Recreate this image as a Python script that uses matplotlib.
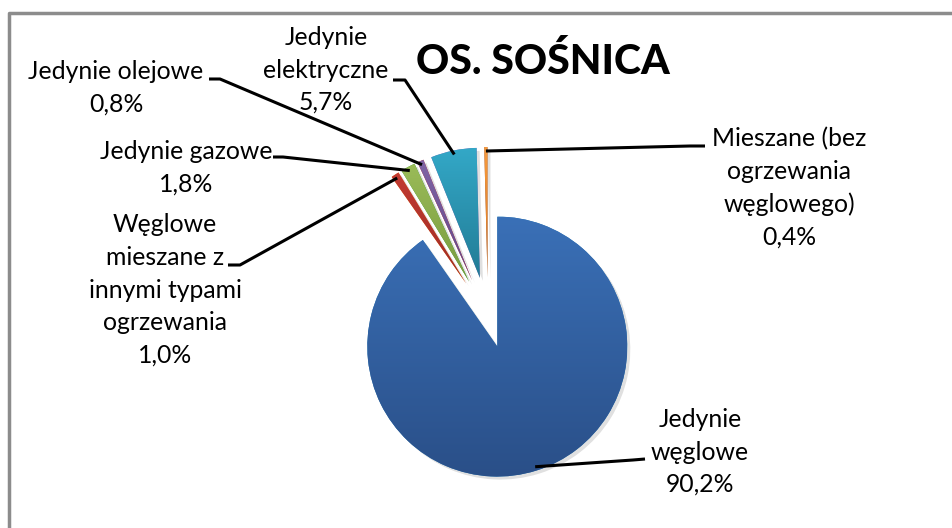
import numpy as np
import matplotlib
matplotlib.use("Agg")
import matplotlib.pyplot as plt
from matplotlib.colors import LinearSegmentedColormap
from matplotlib.patches import Wedge
import math

# ---- data ----
categories = ["Jedynie\nwęglowe",
              "Węglowe\nmieszane z\ninnymi typami\nogrzewania",
              "Jedynie gazowe",
              "Jedynie olejowe",
              "Jedynie\nelektryczne",
              "Mieszane (bez\nogrzewania\nwęglowego)"]
values = [90.2, 1.0, 1.8, 0.8, 5.7, 0.4]
value_labels = ["90,2%", "1,0%", "1,8%", "0,8%", "5,7%", "0,4%"]
title = "OS. SOŚNICA"

# ---- style ----
top_colors = ["#3a70b7", "#c23b32", "#9abb58", "#8064a5", "#33a8c7", "#f79b3e"]
bot_colors = ["#2a4f88", "#9c2b25", "#789a3e", "#5f4686", "#227b95", "#d8761d"]
explode = [31, 40, 40, 40, 40, 40]

W, H = 953, 528
fig = plt.figure(figsize=(W / 100, H / 100), dpi=100)
ax = fig.add_axes([0, 0, 1, 1])
FONT = "Lato"

def py(y):
    return H - y

center = (488, py(317))
radius = 130

wedges, _ = ax.pie(values, startangle=90, counterclock=False, radius=radius,
                   center=center, explode=explode,
                   wedgeprops=dict(linewidth=0), frame=True)

# shadows + gradient fills
grad = np.linspace(0, 1, 256).reshape(-1, 1)
for w, c0, c1 in zip(wedges, top_colors, bot_colors):
    sh = Wedge((w.center[0] + 3, w.center[1] - 3), w.r, w.theta1, w.theta2,
               facecolor="#000000", alpha=0.12, linewidth=0, zorder=0.5)
    ax.add_patch(sh)
    w.set_zorder(1)
    bb = w.get_path().get_extents()
    cmap = LinearSegmentedColormap.from_list("g", [c1, c0])
    im = ax.imshow(grad, cmap=cmap, origin="lower", aspect="auto",
                   extent=[bb.x0, bb.x1, bb.y0, bb.y1], zorder=1.5,
                   interpolation="bilinear")
    im.set_clip_path(w)

# labels and leader lines (pixel coordinates of annotation placement)
label_pos = [(700, 452), (165, 290), (186, 168), (116, 88), (326, 70), (789, 188)]
elbow = [((645, 459), (633, 460)),
         ((228, 265), (240, 265)),
         ((273, 157), (283, 157)),
         ((209, 79), (220, 79)),
         ((393, 80), (405, 80)),
         ((705, 146), (690, 146))]

for w, cat, vl, lp, (e0, e1) in zip(wedges, categories, value_labels, label_pos, elbow):
    ax.text(lp[0], py(lp[1]), cat + "\n" + vl, ha="center", va="center",
            multialignment="center", fontsize=17.8, family=FONT,
            linespacing=1.5, color="#000000", zorder=5)
    tm = math.radians((w.theta1 + w.theta2) / 2)
    ex = w.center[0] + (w.r - 4) * math.cos(tm)
    ey = w.center[1] + (w.r - 4) * math.sin(tm)
    ax.plot([e0[0], e1[0], ex], [py(e0[1]), py(e1[1]), ey], color="#000000",
            lw=2.2, solid_capstyle="butt", zorder=4)

ax.text(543, py(61), title, ha="center", va="center", fontsize=29.5,
        family=FONT, fontweight="black", color="#000000", zorder=5)

# border (top & left, chart area is cropped)
ax.plot([9, 9, W], [0, py(13), py(13)], color="#8c8c8c", lw=2.5, zorder=6)

ax.set_xlim(0, W)
ax.set_ylim(0, H)
ax.set_aspect("auto")
ax.axis("off")
fig.savefig("out.png", dpi=100, facecolor="white")
